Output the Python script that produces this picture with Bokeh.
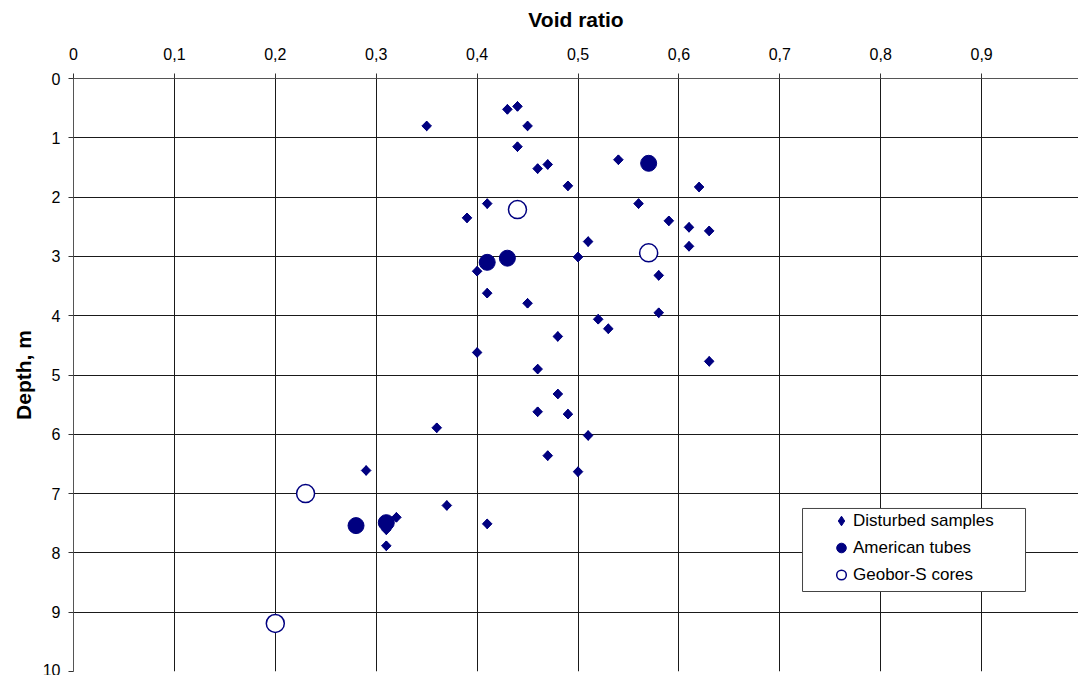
import math
from bokeh.plotting import figure
from bokeh.models import Range1d, FixedTicker, Legend, LegendItem, BoxAnnotation
from bokeh.embed import file_html
from bokeh.resources import INLINE

# Disturbed samples
dist_void = [0.35, 0.43, 0.44, 0.45, 0.44, 0.46, 0.47, 0.41, 0.39, 0.49, 0.54, 0.62,
             0.56, 0.59, 0.61, 0.63, 0.61, 0.51, 0.50, 0.40, 0.58, 0.41, 0.45, 0.58,
             0.52, 0.53, 0.48, 0.40, 0.63, 0.46, 0.48, 0.46, 0.49, 0.36, 0.51, 0.47,
             0.29, 0.50, 0.37, 0.32, 0.31, 0.41, 0.31]
dist_depth = [0.80, 0.52, 0.47, 0.80, 1.15, 1.52, 1.45, 2.11, 2.35, 1.81, 1.37, 1.83,
              2.11, 2.40, 2.51, 2.57, 2.83, 2.75, 3.01, 3.25, 3.32, 3.62, 3.79, 3.95,
              4.06, 4.22, 4.35, 4.62, 4.77, 4.90, 5.32, 5.62, 5.66, 5.89, 6.02, 6.36,
              6.61, 6.63, 7.20, 7.40, 7.61, 7.51, 7.88]

# American tubes
amer_void = [0.57, 0.43, 0.41, 0.28, 0.31]
amer_depth = [1.43, 3.03, 3.10, 7.54, 7.49]

# Geobor-S cores
geo_void = [0.44, 0.57, 0.23, 0.20]
geo_depth = [2.21, 2.94, 7.00, 9.19]

x_ticks = [0, 0.1, 0.2, 0.3, 0.4, 0.5, 0.6, 0.7, 0.8, 0.9]
x_labels = ["0", "0,1", "0,2", "0,3", "0,4", "0,5", "0,6", "0,7", "0,8", "0,9"]
y_ticks = [0, 1, 2, 3, 4, 5, 6, 7, 8, 9, 10]

FONT = "Liberation Sans"
NAVY = "#000080"

p = figure(width=1078, height=675,
           x_range=Range1d(0, 0.996), y_range=Range1d(10, 0),
           x_axis_location="above",
           output_backend="svg", toolbar_location=None,
           min_border_left=73, min_border_top=78,
           min_border_right=0, min_border_bottom=4)

p.outline_line_color = None
p.background_fill_color = "white"
p.border_fill_color = "white"

# axes
xa = p.xaxis[0]
xa.ticker = FixedTicker(ticks=x_ticks)
xa.major_label_overrides = dict(zip(x_ticks, x_labels))
xa.axis_label = "Void ratio"
ya = p.yaxis[0]
ya.ticker = FixedTicker(ticks=y_ticks)
ya.axis_label = "Depth, m"

for ax in (xa, ya):
    ax.axis_label_text_font = FONT
    ax.axis_label_text_font_style = "bold"
    ax.axis_label_text_font_size = "21px"
    ax.axis_label_text_color = "black"
    ax.major_label_text_font = FONT
    ax.major_label_text_font_size = "16px"
    ax.major_label_text_color = "black"
    ax.axis_line_color = "#555555"
    ax.major_tick_line_color = "#333333"
    ax.major_tick_in = 0
    ax.major_tick_out = 5
    ax.minor_tick_line_color = None
xa.major_label_standoff = 14
xa.axis_label_standoff = 14
ya.major_label_standoff = 8
ya.axis_label_standoff = 5

p.xgrid.ticker = FixedTicker(ticks=x_ticks)
p.ygrid.ticker = FixedTicker(ticks=y_ticks)
for g in (p.xgrid[0], p.ygrid[0]):
    g.grid_line_color = "#1a1a1a"
    g.grid_line_width = 1

# diamond glyph used for the legend key (hidden under the rotated squares)
r_dist_key = p.scatter(dist_void, dist_depth, marker="diamond", size=9.6,
                       fill_color=NAVY, line_color=NAVY)
r_dist = p.scatter(dist_void, dist_depth, marker="square", size=6.8, angle=math.pi / 4,
                   fill_color=NAVY, line_color=NAVY)
r_amer = p.scatter(amer_void, amer_depth, marker="circle", size=16,
                   fill_color=NAVY, line_color=NAVY)
r_geo = p.scatter(geo_void, geo_depth, marker="circle", size=18,
                  fill_color="white", line_color=NAVY, line_width=1.5)

# legend frame (drawn behind the legend entries)
legend_box = BoxAnnotation(left=0.7225, right=0.9435, top=7.251, bottom=8.651,
                           fill_color="white", fill_alpha=1,
                           line_color="#444444", line_width=1, line_alpha=1)
p.add_layout(legend_box)

legend = Legend(items=[
    LegendItem(label="Disturbed samples", renderers=[r_dist_key]),
    LegendItem(label="American tubes", renderers=[r_amer]),
    LegendItem(label="Geobor-S cores", renderers=[r_geo]),
], location=(756, 84))
legend.margin = 0
legend.padding = 2
legend.spacing = 2
legend.glyph_height = 25
legend.glyph_width = 24
legend.label_standoff = 0
legend.label_height = 25
legend.label_text_font = FONT
legend.label_text_font_size = "17px"
legend.label_text_color = "black"
legend.border_line_color = None
legend.background_fill_alpha = 0
p.add_layout(legend, "center")

open("out.html", "w").write(file_html(p, INLINE))
